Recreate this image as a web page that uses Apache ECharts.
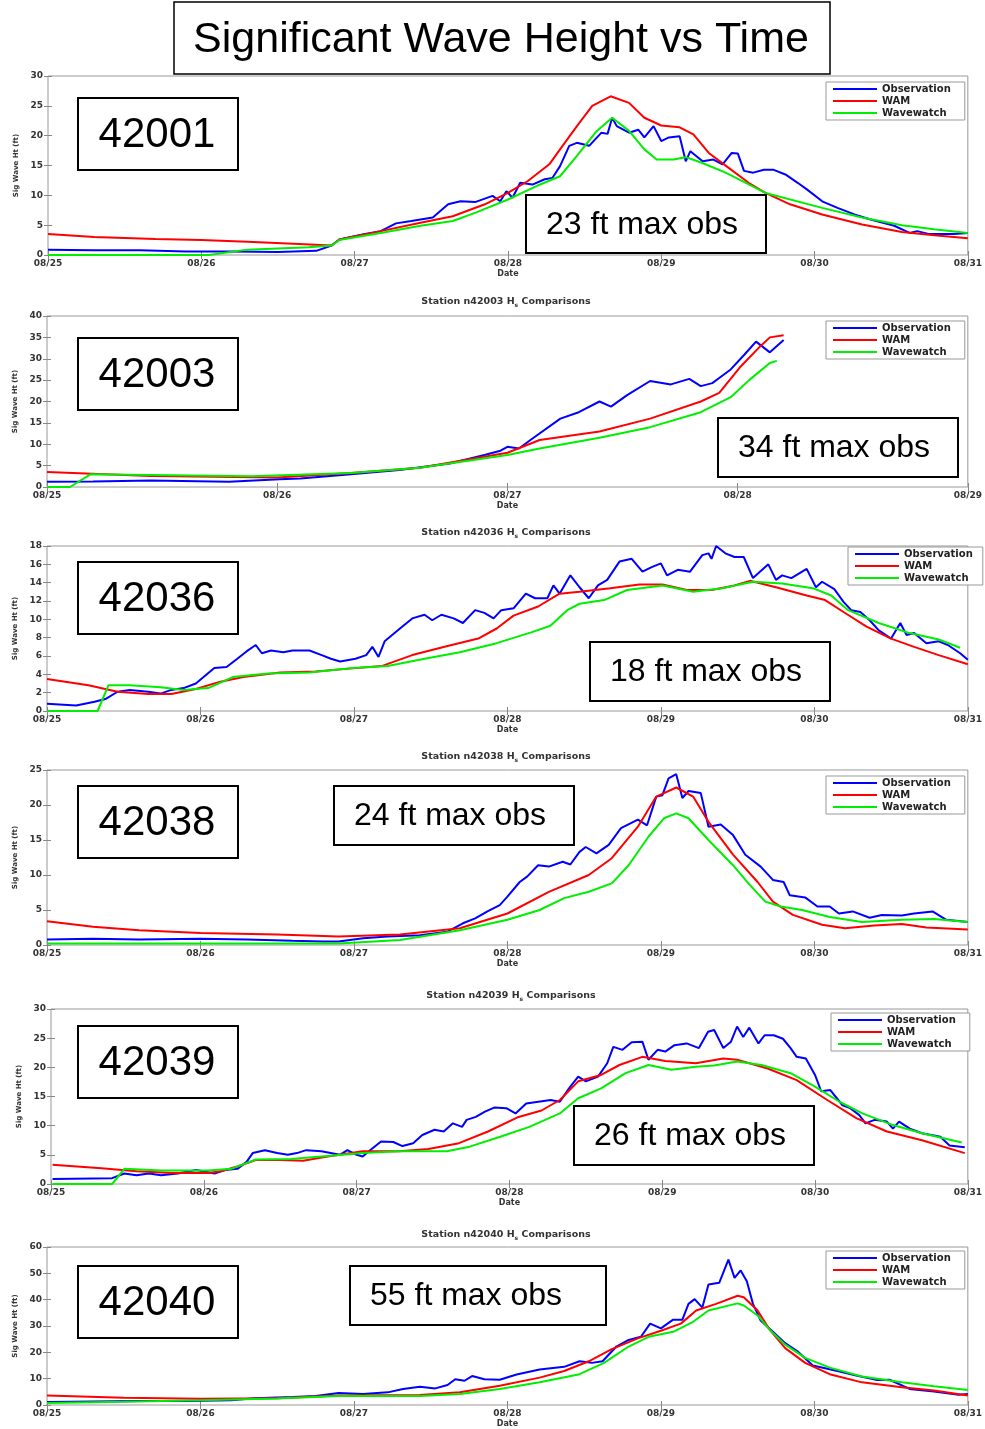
<!DOCTYPE html>
<html>
<head>
<meta charset="utf-8">
<script src="https://cdn.jsdelivr.net/npm/echarts@6/dist/echarts.min.js"></script>
<style>html,body{margin:0;padding:0;background:#fff}#c{width:985px;height:1429px}</style>
</head>
<body>
<div id="c"></div>
<script>
// ---------------- DATA ----------------
const mainTitle = 'Significant Wave Height vs Time';
const seriesNames = ['Observation', 'WAM', 'Wavewatch'];
const dateLabels6 = ['08/25','08/26','08/27','08/28','08/29','08/30','08/31'];
const dateLabels4 = ['08/25','08/26','08/27','08/28','08/29'];
const stations = ['42001','42003','42036','42038','42039','42040'];
const maxObsLabels = ['23 ft max obs','34 ft max obs','18 ft max obs','24 ft max obs','26 ft max obs','55 ft max obs'];
const yMax = [30, 40, 18, 25, 30, 60];
const yStep = [5, 5, 2, 5, 5, 10];
const xDays = [6, 4, 6, 6, 6, 6];

// x = days since 08/25 00Z, y = significant wave height (ft)
const obs42001 = [[0,0.9],[0.3,0.8],[0.6,0.8],[0.9,0.6],[1.2,0.6],[1.5,0.5],[1.75,0.7],[1.85,1.6],[1.90,2.6],[2.06,3.5],[2.17,4.0],[2.27,5.3],[2.37,5.7],[2.51,6.3],[2.61,8.5],[2.69,9.0],[2.79,8.9],[2.90,9.9],[2.95,9.0],[2.99,10.7],[3.03,9.6],[3.08,12.1],[3.16,11.8],[3.24,12.7],[3.29,12.9],[3.34,14.9],[3.40,18.3],[3.45,18.8],[3.53,18.3],[3.61,20.5],[3.65,20.3],[3.68,23.0],[3.71,21.6],[3.79,20.5],[3.85,21.0],[3.89,19.7],[3.95,21.6],[4.00,19.1],[4.05,19.7],[4.12,19.9],[4.16,15.7],[4.19,17.4],[4.27,15.7],[4.34,16.0],[4.40,15.2],[4.46,17.1],[4.50,17.0],[4.54,14.1],[4.60,13.8],[4.67,14.3],[4.73,14.3],[4.81,13.5],[4.89,12.1],[4.95,11.0],[5.05,9.0],[5.15,7.9],[5.26,6.8],[5.36,6.0],[5.52,4.9],[5.62,3.7],[5.67,4.0],[5.75,3.5],[5.91,3.5],[6.0,3.7]];
const wam42001 = [[0,3.5],[0.3,3.0],[0.7,2.7],[1.0,2.5],[1.3,2.2],[1.6,1.9],[1.85,1.6],[1.90,2.6],[2.17,4.0],[2.43,5.4],[2.64,6.5],[2.85,8.5],[3.00,10.4],[3.13,12.4],[3.27,15.2],[3.34,17.7],[3.45,21.6],[3.55,25.0],[3.67,26.6],[3.79,25.5],[3.89,23.0],[4.00,21.7],[4.12,21.4],[4.21,20.2],[4.31,17.1],[4.44,14.6],[4.57,12.1],[4.68,10.4],[4.84,8.5],[5.05,6.8],[5.31,5.1],[5.57,3.85],[5.78,3.3],[6.0,2.8]];
const ww42001 = [[0,0],[1.05,0],[1.3,0.9],[1.5,1.1],[1.7,1.3],[1.85,1.6],[1.90,2.5],[2.17,3.7],[2.43,4.9],[2.64,5.7],[2.79,7.1],[3.00,9.3],[3.19,11.6],[3.34,13.2],[3.45,16.6],[3.58,20.8],[3.68,23.0],[3.79,20.8],[3.89,17.7],[3.97,16.0],[4.08,16.0],[4.16,16.4],[4.26,15.5],[4.42,13.8],[4.68,10.4],[5.05,7.9],[5.31,6.3],[5.57,5.0],[5.78,4.3],[6.0,3.7]];

const obs42003 = [[0,1.2],[0.2,1.3],[0.45,1.5],[0.79,1.2],[1.01,1.8],[1.10,2.0],[1.32,3.0],[1.53,4.0],[1.75,5.5],[1.90,7.5],[1.97,8.5],[2.00,9.4],[2.05,9.0],[2.10,11.0],[2.23,16.0],[2.31,17.5],[2.40,20.0],[2.45,18.8],[2.52,21.5],[2.62,24.8],[2.71,24.0],[2.79,25.3],[2.84,23.6],[2.89,24.3],[2.92,25.5],[2.97,27.5],[3.03,31.0],[3.08,34.0],[3.14,31.5],[3.20,34.4]];
const wam42003 = [[0,3.5],[0.45,2.6],[1.0,2.2],[1.32,3.3],[1.62,4.5],[2.0,8.0],[2.14,11.0],[2.40,13.0],[2.62,16.0],[2.84,20.0],[2.92,22.0],[3.01,28.0],[3.10,33.0],[3.14,35.0],[3.20,35.5]];
const ww42003 = [[0,0],[0.1,0],[0.19,3.0],[0.45,2.8],[0.89,2.5],[1.32,3.3],[1.62,4.5],[2.0,7.5],[2.14,9.0],[2.40,11.5],[2.62,14.0],[2.84,17.5],[2.97,21.0],[3.05,25.0],[3.14,29.0],[3.17,29.5]];

const obs42036 = [[0,0.8],[0.19,0.6],[0.31,1.0],[0.38,1.3],[0.46,2.1],[0.54,2.3],[0.66,2.1],[0.74,1.9],[0.81,2.3],[0.89,2.5],[0.97,3.0],[1.09,4.7],[1.17,4.8],[1.24,5.7],[1.30,6.5],[1.36,7.2],[1.40,6.3],[1.46,6.6],[1.54,6.4],[1.60,6.6],[1.71,6.6],[1.79,6.1],[1.85,5.7],[1.91,5.4],[2.01,5.7],[2.08,6.1],[2.12,7.0],[2.16,5.9],[2.20,7.6],[2.30,9.0],[2.38,10.1],[2.46,10.5],[2.51,9.9],[2.57,10.5],[2.65,10.1],[2.71,9.6],[2.79,11.0],[2.85,10.7],[2.91,10.1],[2.96,11.0],[3.04,11.2],[3.12,12.8],[3.18,12.3],[3.26,12.3],[3.30,13.7],[3.34,12.8],[3.41,14.8],[3.47,13.5],[3.53,12.3],[3.59,13.7],[3.65,14.3],[3.73,16.3],[3.81,16.6],[3.88,15.2],[3.94,15.7],[4.00,16.1],[4.04,14.8],[4.11,15.4],[4.19,15.2],[4.27,17.0],[4.31,17.2],[4.33,16.6],[4.36,18.0],[4.42,17.2],[4.48,16.8],[4.54,16.8],[4.60,14.5],[4.70,16.0],[4.75,14.3],[4.79,14.8],[4.85,14.5],[4.95,15.5],[5.01,13.5],[5.05,14.1],[5.13,13.3],[5.19,11.9],[5.24,11.0],[5.30,10.8],[5.36,9.9],[5.42,8.8],[5.50,7.9],[5.56,9.6],[5.60,8.3],[5.65,8.5],[5.73,7.4],[5.81,7.6],[5.87,7.2],[5.95,6.3],[6.0,5.6]];
const wam42036 = [[0,3.5],[0.27,2.8],[0.46,2.1],[0.66,1.85],[0.81,1.85],[0.97,2.4],[1.13,3.2],[1.28,3.7],[1.52,4.2],[1.75,4.3],[1.99,4.65],[2.18,4.9],[2.38,6.1],[2.61,7.1],[2.81,7.9],[2.93,9.0],[3.04,10.4],[3.20,11.4],[3.34,12.8],[3.47,13.0],[3.67,13.4],[3.86,13.8],[4.01,13.8],[4.17,13.2],[4.33,13.2],[4.48,13.7],[4.58,14.2],[4.75,13.5],[4.95,12.6],[5.07,12.1],[5.19,10.8],[5.34,9.2],[5.50,7.9],[5.65,7.0],[5.81,6.1],[6.0,5.1]];
const ww42036 = [[0,0],[0.33,0],[0.40,2.8],[0.54,2.8],[0.74,2.6],[0.89,2.3],[1.05,2.5],[1.21,3.7],[1.44,4.1],[1.71,4.2],[1.99,4.7],[2.22,4.9],[2.46,5.7],[2.69,6.4],[2.93,7.4],[3.16,8.6],[3.28,9.3],[3.39,11.0],[3.47,11.7],[3.63,12.1],[3.78,13.2],[4.01,13.7],[4.21,13.0],[4.40,13.4],[4.60,14.1],[4.79,13.9],[4.99,13.4],[5.11,12.6],[5.22,11.0],[5.42,9.6],[5.62,8.5],[5.81,7.8],[5.95,6.9]];

const obs42038 = [[0,0.8],[0.3,0.9],[0.6,0.8],[1.0,0.9],[1.3,0.8],[1.6,0.6],[1.8,0.5],[1.90,0.5],[2.06,0.95],[2.22,1.2],[2.43,1.4],[2.61,1.9],[2.71,3.1],[2.79,3.8],[2.87,4.8],[2.95,5.7],[3.00,6.9],[3.08,9.0],[3.13,9.8],[3.20,11.4],[3.27,11.2],[3.36,11.9],[3.41,11.5],[3.47,13.3],[3.51,14.0],[3.58,13.1],[3.66,14.3],[3.74,16.7],[3.85,17.9],[3.91,17.1],[3.97,21.2],[4.01,21.4],[4.05,23.8],[4.10,24.4],[4.14,21.0],[4.18,22.0],[4.26,21.7],[4.31,16.9],[4.39,17.2],[4.47,15.7],[4.55,12.9],[4.65,11.2],[4.73,9.3],[4.80,9.0],[4.84,7.1],[4.94,6.8],[5.02,5.5],[5.10,5.5],[5.16,4.5],[5.25,4.8],[5.36,3.9],[5.44,4.3],[5.57,4.2],[5.65,4.5],[5.77,4.8],[5.86,3.6],[6.0,3.3]];
const wam42038 = [[0,3.4],[0.3,2.6],[0.6,2.1],[1.0,1.7],[1.5,1.5],[1.9,1.2],[2.30,1.5],[2.69,2.4],[3.00,4.5],[3.27,7.6],[3.53,10.0],[3.68,12.4],[3.85,16.9],[3.97,21.2],[4.10,22.5],[4.21,21.2],[4.31,17.6],[4.47,12.9],[4.63,9.0],[4.73,6.2],[4.86,4.3],[5.05,2.9],[5.20,2.4],[5.39,2.8],[5.57,3.0],[5.73,2.5],[6.0,2.2]];
const ww42038 = [[0,0.2],[1.0,0.2],[1.90,0.2],[2.30,0.7],[2.69,2.1],[3.00,3.6],[3.21,5.0],[3.37,6.7],[3.53,7.6],[3.68,8.8],[3.79,11.4],[3.92,15.5],[4.02,18.1],[4.10,18.8],[4.18,18.1],[4.31,15.0],[4.47,11.4],[4.57,8.8],[4.68,6.2],[4.78,5.5],[4.92,5.0],[5.10,4.0],[5.31,3.3],[5.57,3.6],[5.78,3.7],[6.0,3.3]];

const obs42039 = [[0.01,0.86],[0.40,1.0],[0.48,1.8],[0.56,1.5],[0.64,1.8],[0.72,1.5],[0.83,1.8],[0.95,2.4],[1.07,1.8],[1.14,2.4],[1.22,2.6],[1.28,3.8],[1.32,5.3],[1.40,5.8],[1.48,5.3],[1.55,5.0],[1.61,5.3],[1.67,5.8],[1.77,5.6],[1.83,5.3],[1.89,5.0],[1.94,5.8],[2.00,5.0],[2.04,4.7],[2.08,5.6],[2.16,7.3],[2.24,7.2],[2.30,6.5],[2.37,7.0],[2.43,8.4],[2.51,9.3],[2.57,9.0],[2.63,10.4],[2.69,9.8],[2.72,11.0],[2.78,11.5],[2.84,12.4],[2.90,13.1],[2.98,13.0],[3.04,12.1],[3.11,13.8],[3.19,14.1],[3.27,14.4],[3.33,14.1],[3.39,16.4],[3.45,18.4],[3.50,17.6],[3.58,18.4],[3.64,20.7],[3.68,23.5],[3.74,23.0],[3.80,24.3],[3.87,24.4],[3.91,21.3],[3.97,23.0],[4.02,22.7],[4.08,23.8],[4.16,24.1],[4.24,23.3],[4.30,26.1],[4.34,26.4],[4.40,23.3],[4.45,24.4],[4.49,27.0],[4.53,25.2],[4.57,26.8],[4.63,24.1],[4.67,25.5],[4.73,25.5],[4.79,24.9],[4.84,23.3],[4.88,21.8],[4.94,21.5],[5.00,18.7],[5.04,15.9],[5.10,16.1],[5.18,13.5],[5.23,13.0],[5.29,11.8],[5.33,10.4],[5.39,11.0],[5.47,10.7],[5.51,9.5],[5.55,10.7],[5.62,9.5],[5.70,8.7],[5.82,8.1],[5.88,6.6],[5.98,6.3]];
const wam42039 = [[0.01,3.3],[0.33,2.7],[0.56,2.2],[0.79,1.9],[1.03,1.9],[1.11,2.2],[1.22,3.0],[1.34,4.1],[1.50,4.1],[1.65,4.0],[1.81,4.7],[2.04,5.6],[2.28,5.6],[2.47,6.0],[2.67,7.0],[2.86,9.0],[3.06,11.5],[3.21,12.6],[3.33,14.4],[3.45,17.6],[3.60,18.7],[3.72,20.4],[3.87,21.8],[4.02,21.1],[4.22,20.7],[4.40,21.5],[4.49,21.3],[4.69,19.8],[4.88,17.8],[5.08,14.4],[5.27,11.3],[5.47,9.0],[5.70,7.5],[5.98,5.3]];
const ww42039 = [[0.01,0],[0.40,0],[0.48,2.6],[0.72,2.3],[1.03,2.3],[1.18,2.6],[1.34,4.2],[1.57,4.3],[1.81,4.8],[2.04,5.3],[2.28,5.6],[2.59,5.6],[2.74,6.4],[2.94,8.1],[3.13,9.8],[3.33,12.1],[3.45,14.7],[3.60,16.4],[3.76,19.0],[3.91,20.4],[4.06,19.6],[4.22,20.1],[4.34,20.3],[4.49,21.0],[4.65,20.4],[4.84,19.0],[5.00,16.7],[5.16,14.1],[5.31,12.1],[5.51,10.1],[5.70,8.7],[5.96,7.1]];

const obs42040 = [[0,1.1],[0.3,1.3],[0.6,1.5],[0.9,1.5],[1.2,1.8],[1.35,2.6],[1.6,3.0],[1.75,3.4],[1.90,4.6],[2.06,4.2],[2.22,4.8],[2.32,6.1],[2.43,6.9],[2.53,6.3],[2.61,7.6],[2.66,9.8],[2.72,9.2],[2.77,11.0],[2.85,9.8],[2.95,9.6],[3.06,11.6],[3.21,13.5],[3.37,14.5],[3.47,16.6],[3.55,16.0],[3.62,16.6],[3.71,22.2],[3.79,24.7],[3.87,25.9],[3.93,30.9],[4.00,29.1],[4.08,32.4],[4.14,32.4],[4.18,38.4],[4.22,40.2],[4.27,37.0],[4.31,45.8],[4.38,46.4],[4.44,55.2],[4.48,48.3],[4.52,51.1],[4.56,47.0],[4.60,38.4],[4.65,32.1],[4.73,27.8],[4.81,23.5],[4.89,20.4],[4.99,15.0],[5.15,12.9],[5.28,11.1],[5.41,9.5],[5.49,9.6],[5.62,6.1],[5.78,5.1],[5.94,3.9],[6.0,4.2]];
const wam42040 = [[0,3.6],[0.5,2.8],[1.0,2.4],[1.5,2.6],[1.90,3.6],[2.43,3.8],[2.69,4.8],[2.95,7.3],[3.21,10.4],[3.37,12.9],[3.53,16.6],[3.68,21.2],[3.85,25.3],[4.00,28.2],[4.13,30.9],[4.23,35.9],[4.36,38.4],[4.50,41.5],[4.54,40.9],[4.63,35.9],[4.71,28.5],[4.81,21.6],[4.94,16.0],[5.10,11.7],[5.31,8.6],[5.57,6.7],[5.78,5.5],[6.0,3.6]];
const ww42040 = [[0,0.8],[0.5,1.2],[1.0,1.8],[1.5,2.5],[1.90,3.4],[2.43,3.4],[2.69,4.2],[2.95,6.1],[3.21,8.6],[3.47,11.7],[3.63,16.0],[3.79,22.2],[3.92,25.9],[4.08,27.8],[4.21,31.6],[4.31,35.9],[4.50,38.6],[4.54,37.8],[4.63,34.0],[4.71,28.5],[4.81,22.9],[4.94,17.9],[5.10,14.2],[5.31,10.8],[5.57,8.6],[5.78,7.1],[6.0,5.7]];

const obsData = [obs42001, obs42003, obs42036, obs42038, obs42039, obs42040];
const wamData = [wam42001, wam42003, wam42036, wam42038, wam42039, wam42040];
const wwData  = [ww42001, ww42003, ww42036, ww42038, ww42039, ww42040];
const xLabelSets = [dateLabels6, dateLabels4, dateLabels6, dateLabels6, dateLabels6, dateLabels6];

// ---------------- LAYOUT ----------------
const layout = [
  {grid:{left:48,top:76,width:920,height:179},  legend:{left:826,top:82,padR:14},   num:{x:78,y:98},   box:{x:526,y:195,w:240,h:58},  title:null},
  {grid:{left:47,top:316,width:921,height:171}, legend:{left:826,top:321,padR:14},  num:{x:78,y:338},  box:{x:718,y:418,w:240,h:59},  title:{x:506,y:302}},
  {grid:{left:47,top:546,width:921,height:165}, legend:{left:848,top:547,padR:10},  num:{x:78,y:562},  box:{x:590,y:642,w:240,h:59},  title:{x:506,y:533}},
  {grid:{left:47,top:770,width:921,height:175}, legend:{left:826,top:776,padR:14},  num:{x:78,y:786},  box:{x:334,y:786,w:240,h:59},  title:{x:506,y:757}},
  {grid:{left:51,top:1009,width:923,height:175},legend:{left:831,top:1013,padR:14}, num:{x:78,y:1026}, box:{x:574,y:1106,w:240,h:59}, title:{x:511,y:996}},
  {grid:{left:47,top:1247,width:921,height:161},legend:{left:826,top:1251,padR:14}, num:{x:78,y:1266}, box:{x:350,y:1266,w:256,h:59}, title:{x:506,y:1235}}
];

const colors = ['#0000ff', '#ff0000', '#00ee00'];
const smallFont = 'DejaVu Sans';
const labelStyle = {fontFamily: smallFont, fontWeight: 'bold', fontSize: 9, color: '#333'};
const tickStyle = {inside: true, length: 4, lineStyle: {color: '#888', width: 1}};

const grids = [], xAxes = [], yAxes = [], series = [], legends = [], graphics = [];

layout.forEach((L, i) => {
  grids.push(Object.assign({show: true, borderColor: '#999', borderWidth: 1, backgroundColor: '#fff'}, L.grid));
  const labels = xLabelSets[i];
  const xBase = {type: 'value', gridIndex: i, min: 0, max: xDays[i], interval: 1,
    axisLine: {show: false}, splitLine: {show: false}, axisTick: tickStyle};
  xAxes.push(Object.assign({}, xBase, {position: 'bottom',
    axisLabel: Object.assign({margin: 4, formatter: v => labels[Math.round(v)] || ''}, labelStyle),
    name: 'Date', nameLocation: 'middle', nameGap: 15,
    nameTextStyle: {fontFamily: smallFont, fontWeight: 'bold', fontSize: 8, color: '#333'}}));
  xAxes.push(Object.assign({}, xBase, {position: 'top', axisLabel: {show: false}}));
  const yBase = {type: 'value', gridIndex: i, min: 0, max: yMax[i], interval: yStep[i],
    axisLine: {show: false}, splitLine: {show: false}, axisTick: tickStyle};
  yAxes.push(Object.assign({}, yBase, {position: 'left',
    axisLabel: Object.assign({margin: 5}, labelStyle),
    name: 'Sig Wave Ht (ft)', nameLocation: 'middle', nameGap: 28, nameRotate: 90,
    nameTextStyle: {fontFamily: smallFont, fontWeight: 'bold', fontSize: 7, color: '#333'}}));
  yAxes.push(Object.assign({}, yBase, {position: 'right', axisLabel: {show: false}}));

  [obsData[i], wamData[i], wwData[i]].forEach((d, k) => {
    series.push({name: seriesNames[k], type: 'line', xAxisIndex: 2 * i, yAxisIndex: 2 * i,
      data: d, showSymbol: false, symbol: 'none', smooth: false, color: colors[k],
      lineStyle: {width: 2, color: colors[k]}, z: 2 + k});
  });

  legends.push({left: L.legend.left, top: L.legend.top, orient: 'vertical', data: seriesNames,
    icon: 'rect', itemWidth: 44, itemHeight: 2, itemGap: 0,
    padding: [1, L.legend.padR, 1, 7], borderColor: '#999', borderWidth: 1, backgroundColor: '#fff',
    textStyle: {fontFamily: smallFont, fontWeight: 'bold', fontSize: 10, color: '#222', lineHeight: 12}});

  // station number box
  graphics.push({type: 'rect', z: 100, shape: {x: L.num.x, y: L.num.y, width: 160, height: 72},
    style: {fill: '#fff', stroke: '#000', lineWidth: 2}});
  graphics.push({type: 'text', z: 101, x: L.num.x + 79, y: L.num.y + 37,
    style: {text: stations[i], font: '42px "Liberation Sans"', fill: '#000',
      align: 'center', verticalAlign: 'middle', textAlign: 'center', textVerticalAlign: 'middle'}});
  // max obs box
  graphics.push({type: 'rect', z: 100, shape: {x: L.box.x, y: L.box.y, width: L.box.w, height: L.box.h},
    style: {fill: '#fff', stroke: '#000', lineWidth: 2}});
  graphics.push({type: 'text', z: 101, x: L.box.x + 20, y: L.box.y + L.box.h / 2 + 1,
    style: {text: maxObsLabels[i], font: '32px "Liberation Sans"', fill: '#000',
      align: 'left', verticalAlign: 'middle', textAlign: 'left', textVerticalAlign: 'middle'}});
  // station title
  if (L.title) {
    graphics.push({type: 'text', z: 101, x: L.title.x, y: L.title.y,
      style: {text: '{a|Station n' + stations[i] + ' H}{s|s}{a| Comparisons}',
        rich: {a: {fontFamily: smallFont, fontWeight: 'bold', fontSize: 9.5, fill: '#333'},
               s: {fontFamily: smallFont, fontWeight: 'bold', fontSize: 6, fill: '#333', padding: [6, 0, 0, 0]}},
        align: 'center', verticalAlign: 'middle', textAlign: 'center', textVerticalAlign: 'middle'}});
  }
});

// main title box
graphics.push({type: 'rect', z: 100, shape: {x: 174, y: 2, width: 656, height: 72},
  style: {fill: '#fff', stroke: '#000', lineWidth: 1.5}});
graphics.push({type: 'text', z: 101, x: 501, y: 40,
  style: {text: mainTitle, font: '43px "Liberation Sans"', fill: '#000',
    align: 'center', verticalAlign: 'middle', textAlign: 'center', textVerticalAlign: 'middle'}});

const chart = echarts.init(document.getElementById('c'), null, {renderer: 'canvas'});
chart.setOption({
  animation: false,
  backgroundColor: '#fff',
  grid: grids,
  xAxis: xAxes,
  yAxis: yAxes,
  legend: legends,
  series: series,
  graphic: {elements: graphics}
});
</script>
</body>
</html>
